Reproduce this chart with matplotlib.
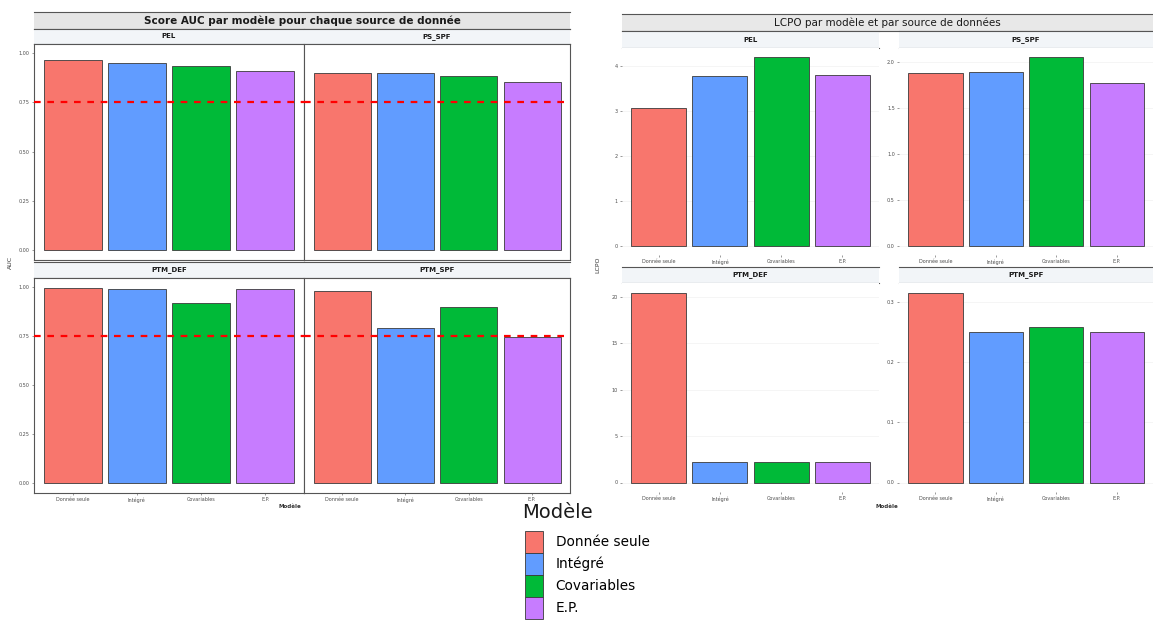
import matplotlib
matplotlib.use("Agg")
import matplotlib.pyplot as plt
from matplotlib.patches import Patch
import numpy as np

# ---- data ----
models = ["Donnée seule", "Intégré", "Covariables", "E.P."]
colors = ["#F8766D", "#619CFF", "#00BA38", "#C77CFF"]

auc_sources = ["PEL", "PS_SPF", "PTM_DEF", "PTM_SPF"]
auc_pel = [0.965, 0.948, 0.935, 0.91]
auc_ps_spf = [0.898, 0.898, 0.884, 0.85]
auc_ptm_def = [0.995, 0.987, 0.92, 0.99]
auc_ptm_spf = [0.98, 0.79, 0.898, 0.743]
auc_threshold = 0.75
auc_ticks = [0, 0.25, 0.5, 0.75, 1.0]
auc_ticklabels = ["0.00", "0.25", "0.50", "0.75", "1.00"]

lcpo_pel = [3.08, 3.78, 4.2, 3.8]
lcpo_ps_spf = [1.88, 1.89, 2.05, 1.77]
lcpo_ptm_def = [20.5, 2.2, 2.2, 2.2]
lcpo_ptm_spf = [0.315, 0.25, 0.257, 0.25]
lcpo_ticks = {
    "PEL": ([0, 1, 2, 3, 4], ["0", "1", "2", "3", "4"]),
    "PS_SPF": ([0, 0.5, 1, 1.5, 2], ["0.0", "0.5", "1.0", "1.5", "2.0"]),
    "PTM_DEF": ([0, 5, 10, 15, 20], ["0", "5", "10", "15", "20"]),
    "PTM_SPF": ([0, 0.1, 0.2, 0.3], ["0.0", "0.1", "0.2", "0.3"]),
}

W, H = 1153, 641
fig = plt.figure(figsize=(W / 100, H / 100), dpi=100)


def box(x0, y0, x1, y1):
    # pixel box (top-left origin) -> figure fraction rect
    return [x0 / W, 1 - y1 / H, (x1 - x0) / W, (y1 - y0) / H]


def strip(x0, y0, x1, y1, label, face, size=5, weight="bold", edge="#555555"):
    ax = fig.add_axes(box(x0, y0, x1, y1))
    ax.set_facecolor(face)
    ax.set_xticks([])
    ax.set_yticks([])
    for s in ["left", "right"]:
        ax.spines[s].set_visible(False)
    for s in ["top", "bottom"]:
        ax.spines[s].set_color(edge)
        ax.spines[s].set_linewidth(0.8)
    ax.text(0.5, 0.5, label, ha="center", va="center", fontsize=size,
            fontweight=weight, color="#1A1A1A", transform=ax.transAxes)
    return ax


def bar_panel(rect, values, ymax, ticks, ticklabels, show_x=True,
              show_y=True, frame=False, grid=False):
    ax = fig.add_axes(rect)
    x = np.arange(len(models))
    ax.bar(x, values, width=0.9, color=colors, edgecolor="#3A3A3A",
           linewidth=0.6, zorder=2)
    ax.set_xlim(-0.6, len(models) - 0.4)
    ax.set_ylim(-0.05 * ymax, 1.05 * ymax)
    ax.set_yticks(ticks)
    if show_y:
        ax.set_yticklabels(ticklabels, fontsize=3.5, color="#4D4D4D")
    else:
        ax.set_yticklabels([])
    ax.set_xticks(x)
    if show_x:
        ax.set_xticklabels(models, fontsize=3.5, color="#4D4D4D")
    else:
        ax.set_xticklabels([])
    ax.tick_params(length=1.5, width=0.4, pad=1.5, colors="#4D4D4D")
    if not show_x:
        ax.tick_params(axis="x", length=0)
    if not show_y:
        ax.tick_params(axis="y", length=0)
    for s in ax.spines.values():
        s.set_visible(frame)
        s.set_color("#555555")
        s.set_linewidth(0.8)
    if grid:
        ax.grid(axis="y", color="#EEEEEE", linewidth=0.4, zorder=0)
    return ax


# ---- left chart: AUC ----
strip(34, 12, 570, 29, "Score AUC par modèle pour chaque source de donnée",
      "#E5E5E5", size=7.5)
auc_max = max(max(auc_pel), max(auc_ps_spf), max(auc_ptm_def), max(auc_ptm_spf))
auc_data = [auc_pel, auc_ps_spf, auc_ptm_def, auc_ptm_spf]
cols = [(34, 304), (304, 570)]
rows = [(29, 44, 260), (262, 278, 493)]
for i, (src, vals) in enumerate(zip(auc_sources, auc_data)):
    r, c = divmod(i, 2)
    x0, x1 = cols[c]
    sy0, py0, py1 = rows[r]
    strip(x0, sy0, x1, py0, src, "#F2F5F8", size=5)
    ax = bar_panel(box(x0, py0, x1, py1), vals, auc_max, auc_ticks,
                   auc_ticklabels, show_x=(r == 1), show_y=(c == 0), frame=True)
    ax.axhline(auc_threshold, color="red", linewidth=1.6,
               linestyle=(0, (3, 3)), zorder=3)

fig.text(290 / W, 1 - 507 / H, "Modèle", fontsize=4, fontweight="bold",
         ha="center", va="center", color="#333333")
fig.text(10 / W, 1 - 262 / H, "AUC", fontsize=4.5, rotation=90,
         ha="center", va="center", color="#333333")

# ---- right chart: LCPO ----
strip(622, 14, 1153, 31, "LCPO par modèle et par source de données",
      "#E8E8E8", size=7.5, weight="normal")
lcpo_data = [lcpo_pel, lcpo_ps_spf, lcpo_ptm_def, lcpo_ptm_spf]
rcols = [(622, 879), (899, 1153)]
rrows = [(31, 48, 255), (267, 283, 492)]
for i, (src, vals) in enumerate(zip(auc_sources, lcpo_data)):
    r, c = divmod(i, 2)
    x0, x1 = rcols[c]
    sy0, py0, py1 = rrows[r]
    strip(x0, sy0, x1, py0, src, "#F2F5F8", size=5)
    t, tl = lcpo_ticks[src]
    bar_panel(box(x0, py0, x1, py1), vals, max(vals), t, tl, grid=True)

fig.text(887 / W, 1 - 507 / H, "Modèle", fontsize=4, fontweight="bold",
         ha="center", va="center", color="#333333")
fig.text(598 / W, 1 - 265 / H, "LCPO", fontsize=4.5, rotation=90,
         ha="center", va="center", color="#333333")

# ---- legend ----
fig.text(522 / W, 1 - 512 / H, "Modèle", fontsize=14, ha="left",
         va="center", color="#1A1A1A")
handles = [Patch(facecolor=c, edgecolor="#3A3A3A", linewidth=0.6) for c in colors]
leg = fig.legend(handles, models, loc="upper left",
                 bbox_to_anchor=(525 / W, 1 - 531 / H), frameon=False,
                 fontsize=9.8, handlelength=1.35, handleheight=2.1,
                 labelspacing=0.0, handletextpad=0.9, borderpad=0,
                 borderaxespad=0)

fig.savefig("out.png", dpi=100)
